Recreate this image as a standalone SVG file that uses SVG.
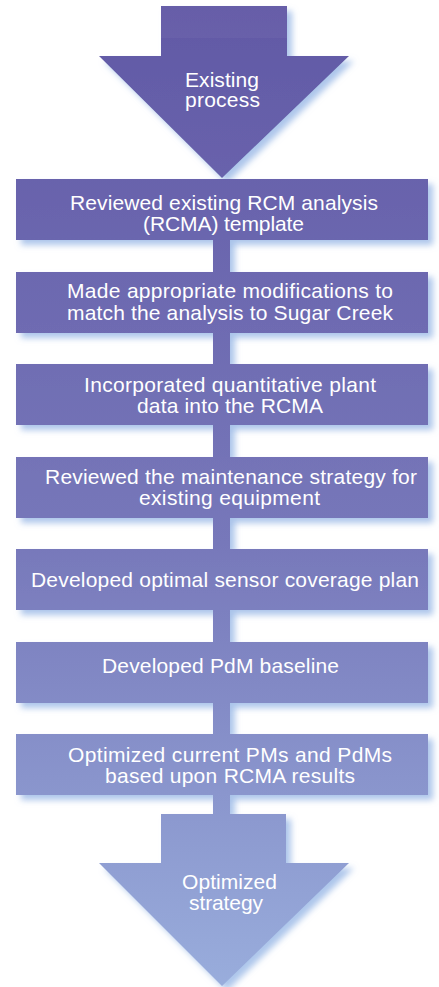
<svg xmlns="http://www.w3.org/2000/svg" width="439" height="987" viewBox="0 0 439 987">
<defs>
<linearGradient id="g" gradientUnits="userSpaceOnUse" x1="0" y1="0" x2="0" y2="987">
<stop offset="0" stop-color="#6158a5"/>
<stop offset="0.55" stop-color="#7778ba"/>
<stop offset="1" stop-color="#99addc"/>
</linearGradient>
<filter id="sh" x="-10%" y="-10%" width="125%" height="130%">
<feDropShadow dx="5" dy="5" stdDeviation="3" flood-color="#9fbce7" flood-opacity="0.85"/>
</filter>
<filter id="bl" x="-50%" y="-50%" width="200%" height="200%">
<feGaussianBlur stdDeviation="3"/>
</filter>
<style>
.f{fill:url(#g);filter:url(#sh)}
.c{fill:url(#g)}
.s{fill:#9fbce7;fill-opacity:0.85;filter:url(#bl)}
.t{fill:#ffffff;font-family:"Liberation Sans",Arial,Helvetica,sans-serif;font-size:21px}
</style>
</defs>
<rect width="439" height="987" fill="#ffffff"/>
<g id="connector-shadows">
<rect class="s" x="218" y="240" width="17" height="37"/>
<rect class="s" x="218" y="333" width="17" height="36"/>
<rect class="s" x="218" y="425" width="17" height="37"/>
<rect class="s" x="218" y="518" width="17" height="36"/>
<rect class="s" x="218" y="610" width="17" height="37"/>
<rect class="s" x="218" y="703" width="17" height="36"/>
<rect class="s" x="218" y="795" width="17" height="24"/>
</g>
<g id="start">
<polygon class="f" points="161,6 287,6 287,56 349,56 222,178 99,56 161,56"/>
<rect x="161" y="6" width="126" height="32" fill="#ffffff" fill-opacity="0.04"/>
<text class="t" x="222" y="87" text-anchor="middle" textLength="74" lengthAdjust="spacing">Existing</text>
<text class="t" x="222.5" y="107" text-anchor="middle" textLength="75" lengthAdjust="spacing">process</text>
</g>
<g id="step1">
<rect class="f" x="16" y="179" width="412" height="61"/>
<text class="t" x="224" y="210" text-anchor="middle" textLength="308" lengthAdjust="spacing">Reviewed existing RCM analysis</text>
<text class="t" x="223.5" y="231" text-anchor="middle" textLength="161" lengthAdjust="spacing">(RCMA) template</text>
</g>
<g id="step2">
<rect class="f" x="16" y="272" width="412" height="61"/>
<text class="t" x="230" y="298" text-anchor="middle" textLength="326" lengthAdjust="spacing">Made appropriate modifications to</text>
<text class="t" x="230" y="320" text-anchor="middle" textLength="326" lengthAdjust="spacing">match the analysis to Sugar Creek</text>
</g>
<g id="step3">
<rect class="f" x="16" y="364" width="412" height="61"/>
<text class="t" x="230" y="392" text-anchor="middle" textLength="292" lengthAdjust="spacing">Incorporated quantitative plant</text>
<text class="t" x="230" y="413" text-anchor="middle" textLength="186" lengthAdjust="spacing">data into the RCMA</text>
</g>
<g id="step4">
<rect class="f" x="16" y="457" width="412" height="61"/>
<text class="t" x="231" y="484" text-anchor="middle" textLength="372" lengthAdjust="spacing">Reviewed the maintenance strategy for</text>
<text class="t" x="229.5" y="505" text-anchor="middle" textLength="181" lengthAdjust="spacing">existing equipment</text>
</g>
<g id="step5">
<rect class="f" x="16" y="549" width="412" height="61"/>
<text class="t" x="225" y="587" text-anchor="middle" textLength="388" lengthAdjust="spacing">Developed optimal sensor coverage plan</text>
</g>
<g id="step6">
<rect class="f" x="16" y="642" width="412" height="61"/>
<text class="t" x="220.5" y="673" text-anchor="middle" textLength="237" lengthAdjust="spacing">Developed PdM baseline</text>
</g>
<g id="step7">
<rect class="f" x="16" y="734" width="412" height="61"/>
<text class="t" x="230" y="762" text-anchor="middle" textLength="324" lengthAdjust="spacing">Optimized current PMs and PdMs</text>
<text class="t" x="230" y="783" text-anchor="middle" textLength="250" lengthAdjust="spacing">based upon RCMA results</text>
</g>
<g id="end">
<polygon class="f" points="161,814 286,814 286,863 349,863 222,986 99,863 161,863"/>
<text class="t" x="229.5" y="889" text-anchor="middle" textLength="95" lengthAdjust="spacing">Optimized</text>
<text class="t" x="226" y="910" text-anchor="middle" textLength="74" lengthAdjust="spacing">strategy</text>
</g>
<g id="connectors">
<rect class="c" x="213" y="240" width="17" height="32"/>
<rect class="c" x="213" y="333" width="17" height="31"/>
<rect class="c" x="213" y="425" width="17" height="32"/>
<rect class="c" x="213" y="518" width="17" height="31"/>
<rect class="c" x="213" y="610" width="17" height="32"/>
<rect class="c" x="213" y="703" width="17" height="31"/>
<rect class="c" x="213" y="795" width="17" height="19"/>
</g>
</svg>
